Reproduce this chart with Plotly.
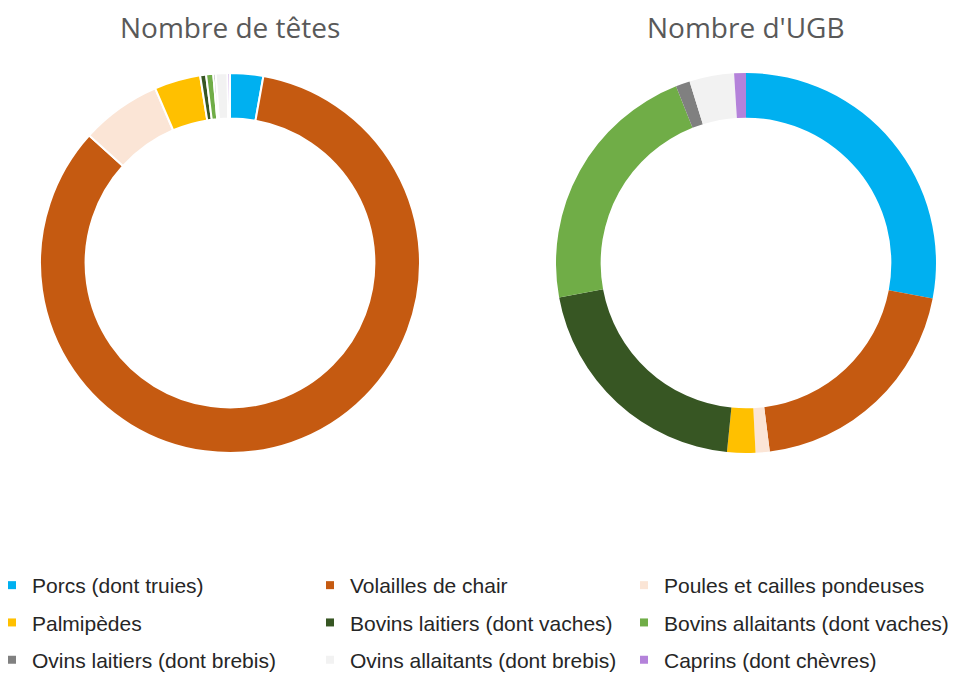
import plotly.graph_objects as go

# categories shared by both donuts
labels = [
    "Porcs (dont truies)",
    "Volailles de chair",
    "Poules et cailles pondeuses",
    "Palmipèdes",
    "Bovins laitiers (dont vaches)",
    "Bovins allaitants (dont vaches)",
    "Ovins laitiers (dont brebis)",
    "Ovins allaitants (dont brebis)",
    "Caprins (dont chèvres)",
]
colors = ["#00B0F0", "#C55A11", "#FBE5D6", "#FFC000", "#375623",
          "#70AD47", "#808080", "#F2F2F2", "#B482DA"]

# shares in %
nb_tetes = [2.8, 83.4, 6.8, 3.9, 0.5, 0.6, 0.2, 1.0, 0.2]
nb_ugb = [28.0, 20.0, 1.2, 2.4, 20.5, 21.9, 1.2, 3.8, 1.0]

W, H = 963, 673
OFF = 8   # the page body adds an 8px offset to the figure


def px_x(x):
    return (x - OFF) / W


def px_y(y):
    return 1 - (y - OFF) / H


fig = go.Figure()

fig.add_trace(go.Pie(
    labels=labels, values=nb_tetes, hole=0.76, sort=False,
    direction="clockwise", rotation=0, textinfo="none",
    marker=dict(colors=colors, line=dict(color="white", width=2)),
    domain=dict(x=[px_x(40), px_x(420)], y=[px_y(453), px_y(73)]),
    showlegend=False, name="Nombre de têtes",
))
fig.add_trace(go.Pie(
    labels=labels, values=nb_ugb, hole=0.765, sort=False,
    direction="clockwise", rotation=0, textinfo="none",
    marker=dict(colors=colors, line=dict(color="white", width=0)),
    domain=dict(x=[px_x(556), px_x(936)], y=[px_y(453), px_y(73)]),
    showlegend=False, name="Nombre d'UGB",
))

# legend entries with small square keys, three columns
legend_ids = ["legend", "legend2", "legend3"]
for i, (lab, col) in enumerate(zip(labels, colors)):
    fig.add_trace(go.Scatter(
        x=[None], y=[None], mode="markers", name=lab,
        legend=legend_ids[i % 3], legendgroup=lab,
        marker=dict(symbol="square", size=8, color=col),
    ))

for x, txt in [(230, "Nombre de têtes"), (746, "Nombre d'UGB")]:
    fig.add_annotation(x=px_x(x), y=px_y(27), xref="paper", yref="paper",
                       xanchor="center", yanchor="middle",
                       text=txt, showarrow=False,
                       font=dict(family="Open Sans", size=28, color="#595959"))

leg_style = dict(
    orientation="v", xanchor="left", yanchor="top", y=px_y(565),
    tracegroupgap=7,
    font=dict(family="Liberation Sans", size=21, color="#262626"),
    itemclick=False, bgcolor="rgba(0,0,0,0)",
)

fig.update_xaxes(visible=False)
fig.update_yaxes(visible=False)
fig.update_layout(
    width=W, height=H,
    margin=dict(l=0, r=0, t=0, b=0, autoexpand=False),
    paper_bgcolor="white", plot_bgcolor="white",
    font=dict(family="Liberation Sans", color="#262626"),
    legend=dict(x=px_x(-8), **leg_style),
    legend2=dict(x=px_x(310), **leg_style),
    legend3=dict(x=px_x(624), **leg_style),
)

fig.write_html("out.html")
